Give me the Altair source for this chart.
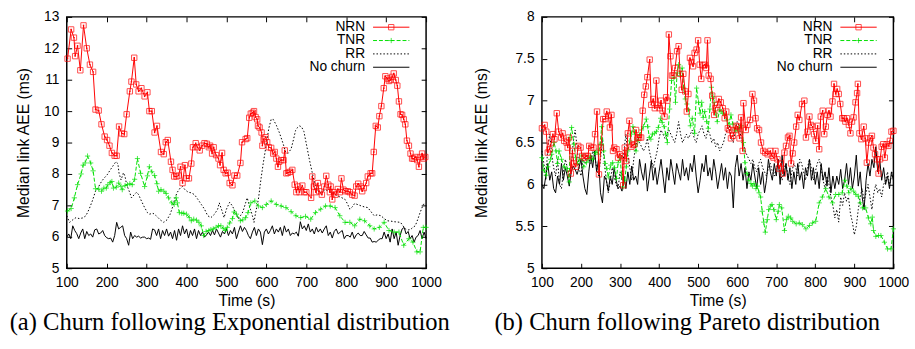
import altair as alt
import pandas as pd

# ---------------- data ----------------
T5 = list(range(100, 1001, 5))
SERIES = ["NRN", "TNR", "RR", "No churn"]

# (a) Exponential churn
a_nrn = [(102,11.67),(111,12.6),(118,12.34),(121,11.75),(127,12.08),(134,11.3),(142,12.73),(150,12.0),(158,11.48),(166,11.25),
         (172,10.05),(180,10.02),(187,9.58),(195,9.19),(201,9.08),(207,8.9),(213,8.67),(220,8.58),(225,8.58),(231,9.51),
         (238,9.29),(244,9.27),(250,9.9),(258,10.63),(262,10.94),(269,11.7),(274,10.85),(280,10.63),(287,10.73),(295,10.47),
         (302,10.6),(307,10.0),(313,10.0),(320,9.32),(326,9.53),(336,8.7),(343,8.63),(348,9.01),(353,9.08),(361,8.39),
         (365,8.13),(369,7.92),(375,7.92),(380,7.95),(385,8.23),(390,7.71),(396,8.28),(400,7.86),(406,7.86),(412,8.33),
         (416,8.85),(423,8.98),(427,8.85),(433,8.75),(439,8.9),(445,8.98),(451,8.96),(456,8.85),(459,8.9),(464,8.65),
         (468,8.85),(474,8.6),(480,8.49),(484,8.28),(489,8.67),(493,8.13),(498,8.02),(503,8.04),(508,7.71),(515,7.64),
         (520,7.95),(527,7.95),(535,8.35),(539,9.01),(548,9.11),(552,9.14),(557,9.79),(561,9.92),(566,9.95),(569,10.0),
         (573,9.81),(577,9.74),(579,9.53),(583,9.48),(588,9.32),(590,8.9),(593,9.11),(598,9.17),(602,9.01),(606,8.85),
         (612,8.83),(617,8.65),(621,8.7),(625,8.49),(629,8.23),(632,8.39),(637,8.44),(643,8.44),(646,8.75),(650,8.02),
         (654,8.04),(660,8.07),(665,8.13),(671,7.66),(675,7.42),(679,7.6),(683,7.42),(690,7.63),(695,7.42),(700,7.42),
         (712,7.24),(715,7.92),(719,7.6),(724,7.42),(729,7.71),(732,7.45),(739,7.34),(745,7.6),(750,7.94),(755,7.66),
         (759,7.42),(761,7.6),(765,7.19),(769,7.42),(773,7.34),(779,7.52),(784,7.42),(788,7.86),(793,7.5),(798,7.45),
         (804,7.45),(809,7.42),(815,7.34),(821,7.31),(825,7.6),(830,7.69),(836,7.6),(840,7.45),(844,7.55),(850,7.71),
         (854,7.92),(861,8.02),(865,8.02),(869,8.7),(874,9.53),(879,9.48),(883,9.84),(888,10.16),(894,10.73),(898,11.11),
         (903,11.04),(907,10.96),(911,10.99),(915,11.09),(919,11.2),(924,10.99),(928,10.81),(932,10.31),(936,9.9),(940,9.88),
         (944,9.74),(948,9.58),(952,9.06),(957,8.9),(961,8.65),(965,8.49),(969,8.49),(973,8.54),(978,8.44),(982,8.23),
         (986,8.54),(990,8.65),(994,8.49),(998,8.54)]
a_tnr = [(102,6.82),(111,6.9),(119,7.24),(127,7.66),(136,8.0),(141,8.28),(146,8.35),(152,8.57),(160,8.35),(166,8.1),
         (172,7.53),(180,7.52),(187,7.45),(193,7.55),(199,7.55),(203,7.66),(209,7.73),(213,7.76),(217,7.55),(224,7.58),
         (230,7.71),(236,7.6),(239,7.5),(246,7.63),(252,7.66),(258,7.69),(264,7.66),(270,7.83),(277,8.49),(285,8.02),
         (295,7.6),(302,7.94),(307,8.23),(313,8.07),(320,7.95),(326,7.69),(330,7.45),(336,7.5),(343,7.45),(349,7.38),
         (355,7.24),(363,7.08),(369,7.03),(374,7.24),(377,7.08),(382,6.77),(388,6.75),(393,6.75),(400,6.72),(407,6.61),
         (412,6.51),(418,6.56),(425,6.53),(431,6.46),(437,6.35),(443,6.04),(449,6.17),(456,6.2),(461,6.23),(467,6.25),
         (474,6.3),(480,6.35),(486,6.35),(492,6.27),(497,6.2),(502,6.3),(508,6.44),(515,6.58),(519,6.79),(525,6.72),
         (535,6.51),(541,6.54),(548,6.61),(554,6.77),(561,7.08),(571,7.14),(580,6.98),(590,6.93),(600,7.03),(612,7.14),
         (625,7.03),(637,6.98),(649,6.93),(662,6.8),(674,6.67),(686,6.61),(698,6.65),(711,6.56),(723,6.77),(736,6.88),
         (748,6.98),(760,6.98),(772,6.93),(784,6.67),(797,6.46),(809,6.46),(821,6.35),(834,6.56),(846,6.51),(859,6.35),
         (870,6.25),(883,6.3),(895,6.46),(907,6.2),(920,6.15),(932,6.15),(944,5.73),(957,5.94),(967,5.83),(977,5.52),
         (985,5.52),(993,6.3),(1000,6.3)]
a_rr = [(100,6.67),(107,6.46),(115,6.54),(123,6.61),(131,6.58),(140,6.6),(148,6.67),(156,6.88),(164,7.14),(172,7.45),
        (180,7.6),(187,7.76),(193,7.86),(201,7.97),(209,8.13),(217,8.28),(223,8.39),(228,8.33),(231,8.02),(236,7.81),
        (242,8.04),(246,7.92),(250,7.66),(258,7.4),(262,7.24),(269,7.34),(275,7.42),(280,7.34),(287,7.14),(295,6.93),
        (302,6.77),(307,6.72),(316,6.75),(324,6.67),(334,6.54),(343,6.46),(351,6.54),(359,6.72),(366,6.98),(371,7.24),
        (377,7.42),(384,7.55),(390,7.6),(396,7.5),(404,7.42),(412,7.4),(420,7.34),(428,7.2),(437,7.03),(445,6.88),
        (453,6.67),(461,6.61),(470,6.72),(478,6.88),(482,7.08),(489,6.82),(494,6.61),(500,6.88),(508,7.1),(515,6.98),
        (523,6.77),(530,6.56),(535,6.67),(541,6.79),(548,7.08),(552,7.24),(557,7.0),(560,6.88),(565,6.67),(569,6.46),
        (573,6.77),(580,7.19),(586,7.8),(592,8.33),(600,8.96),(606,9.45),(612,9.74),(617,9.74),(625,9.55),(633,9.3),
        (642,8.96),(648,8.7),(654,8.65),(662,8.8),(668,9.1),(673,9.38),(678,9.48),(683,9.53),(688,9.5),(694,9.35),
        (700,8.96),(708,8.44),(717,7.92),(725,7.5),(735,7.4),(748,7.5),(756,7.45),(764,7.4),(772,7.35),(780,7.29),
        (788,7.25),(797,7.19),(803,7.05),(809,6.88),(815,6.95),(821,7.06),(830,7.02),(838,6.98),(846,6.95),(854,6.93),
        (862,6.8),(870,6.67),(878,6.7),(887,6.67),(895,6.58),(903,6.51),(911,6.5),(920,6.48),(928,6.47),(936,6.46),
        (942,6.35),(948,6.25),(955,6.22),(961,6.23),(967,6.3),(973,6.35),(979,6.55),(985,6.77),(993,7.03),(1000,7.05)]
a_nc = [5.99,6.09,5.94,6.35,6.2,6.1,5.94,6.12,6.25,5.94, 6.17,6.04,6.09,5.99,6.22,6.25,6.09,6.12,6.2,6.04,
        5.97,5.94,5.96,5.83,6.04,6.46,6.25,6.3,6.35,6.04, 5.94,5.73,6.15,5.94,6.04,5.99,6.02,5.96,5.99,5.99,
        5.94,5.96,5.92,6.25,6.22,6.04,6.25,5.94,6.2,6.04, 6.25,6.02,6.15,5.94,6.2,5.89,6.25,6.04,6.35,6.09,
        6.25,5.96,6.2,6.04,6.25,5.94,6.2,6.04,6.15,5.99, 6.06,6.15,6.04,6.2,6.06,6.25,6.12,5.99,6.17,6.09,
        6.25,6.04,6.2,6.09,6.3,5.94,6.15,6.35,6.17,6.3, 6.2,6.04,5.94,6.15,6.3,6.04,6.25,6.15,5.75,6.15,
        6.25,6.09,6.2,6.35,6.09,6.25,6.15,6.3,6.04,6.35, 6.15,6.25,6.04,6.12,6.09,6.15,6.02,6.48,6.25,6.35,
        6.2,6.41,6.15,6.25,6.09,6.3,6.15,6.25,6.12,6.25, 6.35,6.04,6.15,5.96,6.17,6.25,6.09,6.15,6.2,5.94,
        6.04,6.04,5.99,6.15,5.94,6.06,6.12,6.04,6.04,6.17, 6.06,5.96,5.96,5.83,5.85,5.83,5.89,5.94,5.94,6.15,
        5.94,6.09,5.83,6.25,5.94,6.15,5.73,6.04,6.25,6.3, 6.09,6.17,5.94,6.04,5.83,5.99,6.04,6.2,5.94,6.15,
        5.94]

# (b) Pareto churn
b_nrn = [(100,6.67),(107,6.71),(111,6.63),(115,6.38),(119,6.42),(124,6.5),(128,6.6),(132,6.54),(138,6.85),(143,6.63),
         (149,6.56),(153,6.61),(157,6.52),(163,6.5),(166,6.44),(169,6.56),(174,6.13),(178,6.4),(182,6.25),(186,6.21),
         (193,6.46),(199,6.44),(203,6.34),(209,6.32),(213,6.34),(218,6.34),(221,6.46),(226,6.44),(232,6.44),(236,6.6),
         (241,6.87),(246,6.12),(251,6.44),(257,6.78),(262,6.78),(266,6.87),(270,6.82),(274,6.68),(278,6.83),(282,6.4),
         (285,6.44),(291,6.42),(295,6.32),(299,6.36),(305,6.34),(308,5.99),(312,6.44),(316,6.28),(320,6.61),(324,6.76),
         (329,6.45),(333,6.47),(337,6.48),(341,6.65),(345,6.56),(349,6.56),(354,6.56),(358,6.88),(362,7.07),(366,7.17),
         (370,7.28),(376,7.49),(380,6.95),(385,7.02),(389,6.91),(393,7.24),(397,6.95),(401,6.91),(405,7.0),(409,6.88),
         (414,6.81),(418,7.04),(421,7.0),(425,7.79),(429,7.53),(433,7.3),(437,7.3),(441,7.39),(446,7.59),(450,7.65),
         (454,7.32),(458,7.13),(462,7.32),(467,7.11),(471,6.87),(475,7.08),(479,7.51),(483,7.46),(487,7.41),(491,7.57),
         (496,7.61),(500,7.72),(504,7.43),(508,7.26),(512,7.42),(517,7.43),(521,7.39),(524,7.72),(527,7.3),(532,7.26),
         (536,7.06),(541,6.83),(544,6.91),(549,6.95),(553,7.02),(558,6.98),(563,6.91),(568,6.79),(572,6.87),(576,6.67),
         (580,6.65),(584,6.55),(589,6.58),(593,6.65),(597,6.7),(601,6.69),(606,6.55),(610,6.8),(614,6.4),(616,6.97),
         (622,6.65),(626,6.71),(633,6.77),(639,7.08),(643,7.0),(647,6.79),(651,6.67),(656,6.65),(661,6.5),(667,6.4),
         (672,6.38),(678,6.36),(685,6.4),(689,6.34),(693,6.32),(698,6.4),(703,6.3),(707,6.19),(712,6.25),(717,6.13),
         (721,6.38),(725,6.46),(730,6.56),(734,6.58),(738,6.25),(742,6.37),(746,6.5),(751,6.69),(755,6.83),(759,6.77),
         (766,6.96),(772,7.0),(776,6.56),(780,6.63),(785,6.81),(789,6.71),(793,6.69),(797,6.6),(801,6.52),(806,6.7),
         (810,6.42),(814,6.81),(819,6.88),(823,6.6),(827,6.69),(831,6.83),(835,6.88),(839,6.81),(844,6.99),(848,7.2),
         (852,7.08),(856,7.14),(860,7.08),(864,6.96),(869,6.79),(873,6.79),(877,6.75),(881,6.79),(886,6.71),(890,6.61),
         (894,6.75),(898,6.8),(903,6.98),(907,7.09),(909,7.2),(913,6.61),(918,6.54),(924,6.69),(928,6.55),(932,6.26),
         (937,6.5),(941,6.55),(945,6.58),(949,6.44),(953,6.36),(957,6.3),(962,6.13),(966,6.3),(970,6.45),(974,6.48),
         (978,6.32),(983,6.48),(987,6.46),(991,6.52),(995,6.63),(1000,6.64)]
b_tnr = [(100,6.32),(105,6.17),(111,6.11),(115,6.21),(122,6.3),(125,6.36),(131,6.5),(136,6.4),(140,6.25),(144,6.4),
         (150,6.3),(157,6.21),(164,6.19),(170,6.03),(172,6.56),(176,6.68),(182,6.48),(186,6.32),(191,6.25),(197,6.3),
         (202,6.35),(207,6.21),(214,6.26),(219,6.3),(224,6.34),(230,6.3),(237,6.38),(241,6.4),(245,6.36),(249,6.48),
         (253,6.69),(258,6.4),(262,6.25),(266,6.19),(270,6.09),(276,6.23),(281,6.26),(286,6.2),(291,6.07),(295,6.26),
         (300,6.32),(304,6.11),(308,5.97),(312,6.05),(316,6.21),(320,6.4),(325,6.52),(329,6.6),(333,6.69),(337,6.63),
         (341,6.4),(346,6.52),(350,6.59),(355,6.65),(360,6.69),(367,6.78),(371,6.69),(375,6.56),(379,6.54),(383,6.6),
         (388,6.61),(393,6.63),(398,6.68),(404,6.79),(408,6.74),(413,6.69),(417,6.6),(421,6.5),(427,6.9),(432,7.24),
         (438,7.28),(442,6.98),(446,7.33),(450,7.43),(454,7.3),(459,7.39),(463,7.15),(467,7.02),(471,6.96),(475,6.89),
         (480,6.7),(485,6.79),(491,6.61),(496,7.15),(501,6.98),(505,6.85),(509,6.98),(513,6.8),(517,6.87),(522,6.75),
         (526,6.67),(530,6.9),(534,7.16),(538,7.05),(541,6.98),(545,6.85),(549,6.75),(555,6.89),(559,6.87),(563,6.85),
         (568,6.83),(574,6.77),(579,6.72),(584,6.83),(589,6.72),(594,6.65),(600,6.64),(605,6.68),(611,6.7),(616,6.5),
         (620,6.26),(625,6.13),(630,6.05),(635,6.01),(639,5.98),(643,6.01),(648,5.95),(652,5.98),(656,5.9),(660,5.85),
         (664,5.68),(668,5.55),(672,5.43),(677,5.58),(681,5.7),(685,5.74),(689,5.76),(694,5.7),(700,5.58),(705,5.68),
         (708,5.76),(714,5.72),(721,5.45),(726,5.58),(731,5.62),(737,5.6),(742,5.56),(751,5.53),(759,5.54),(767,5.52),
         (776,5.47),(785,5.51),(793,5.54),(801,5.56),(810,5.78),(818,5.85),(827,5.95),(835,5.85),(844,5.78),(852,5.88),
         (860,5.88),(869,5.9),(876,6.05),(881,5.98),(886,5.9),(891,5.95),(898,5.92),(904,5.88),(910,5.86),(915,5.78),
         (921,5.72),(929,5.72),(936,5.6),(942,5.53),(946,5.61),(949,5.45),(955,5.38),(962,5.39),(968,5.39),(977,5.31),
         (985,5.23),(994,5.23),(1000,5.47)]
b_rr = [6.4,6.25,6.05,6.45,6.6,6.35,6.2,6.1,6.3,6.0, 5.95,6.15,6.3,6.2,6.1,6.2,6.5,6.65,6.45,6.2,
        6.1,6.3,6.25,6.35,6.3,6.25,6.4,6.35,6.2,6.1, 6.3,6.55,6.25,6.05,5.9,6.05,6.2,6.1,6.0,5.95,
        6.15,6.05,6.4,6.6,6.35,6.2,6.05,6.3,6.45,6.55, 6.5,6.45,6.4,6.45,6.55,6.4,6.3,6.2,6.3,6.4,
        6.55,6.65,6.6,6.55,6.6,6.65,6.6,6.55,6.5,6.6, 6.75,6.6,6.5,6.55,6.6,6.55,6.6,6.65,6.55,6.5,
        6.6,6.65,6.7,6.6,6.55,6.65,6.6,6.5,6.55,6.45, 6.5,6.4,6.45,6.5,6.6,6.65,6.7,6.55,6.5,6.65,
        6.75,6.7,6.55,6.5,6.4,6.35,6.3,6.25,6.3,6.2, 6.15,6.25,6.3,6.2,6.15,6.1,6.2,6.25,6.15,6.1,
        6.2,6.25,6.15,6.05,6.2,6.25,6.1,6.0,6.15,6.25, 6.2,6.1,6.3,6.25,6.15,6.05,6.2,6.3,6.2,6.05,
        6.15,6.25,6.3,6.2,6.05,5.95,6.1,6.0,5.85,5.75, 5.6,5.7,5.55,5.85,5.75,5.9,5.8,5.85,5.65,5.55,
        5.4,5.5,5.7,5.85,5.95,5.8,5.9,6.0,5.85,5.7, 5.9,6.0,5.9,5.95,5.85,6.0,6.05,6.15,6.0,6.1,
        6.15]
b_nc = [6.0,5.95,6.1,6.25,6.05,6.15,5.95,5.9,6.1,6.0, 6.25,6.05,6.2,6.1,5.98,6.15,6.22,6.18,6.12,6.2,
        6.3,6.1,5.95,5.88,6.15,6.35,6.2,6.4,6.15,6.3, 5.9,5.78,6.1,6.05,5.92,6.1,6.0,6.2,6.05,5.95,
        5.98,5.92,6.1,5.95,6.15,6.0,6.22,6.05,6.1,6.0, 6.3,6.15,6.05,6.25,5.92,6.1,6.28,6.05,6.2,6.0,
        6.15,6.3,6.1,5.9,6.2,6.05,6.3,6.15,6.0,6.25, 6.15,6.05,6.3,6.1,6.2,6.05,6.25,6.15,6.35,6.1,
        5.9,6.05,6.25,6.15,6.35,6.1,6.2,6.05,6.3,6.15, 5.95,6.1,6.25,6.05,6.2,5.95,6.15,6.1,5.72,6.2,
        6.35,6.1,6.25,6.05,6.2,5.95,6.15,6.05,6.25,6.1, 5.95,6.2,6.0,6.15,5.9,6.05,6.3,6.15,6.05,6.25,
        6.1,6.3,6.0,6.35,6.1,6.25,6.05,6.2,5.95,6.15, 6.0,6.25,6.05,6.15,5.95,6.2,6.1,6.3,6.05,6.2,
        6.0,6.15,5.95,6.25,6.05,6.15,5.98,6.2,5.9,6.1, 5.95,6.1,6.0,6.18,5.95,6.05,6.25,6.0,6.2,5.95,
        6.1,6.35,5.98,6.15,5.85,5.7,6.05,6.25,6.1,6.3, 6.2,6.45,6.15,6.3,6.05,6.2,6.0,6.1,5.95,6.15,
        6.05]

# ---------------- style ----------------
RED, GREEN, BLACK = "#ff0000", "#00e000", "#000000"
SANS, SERIF = "Liberation Sans", "Liberation Serif"
PLUS = "M-1,0H1M0,-1V1"


def pairs(p):
    return pd.DataFrame({"t": [a for a, _ in p], "v": [b for _, b in p]})


def grid(vals):
    return pd.DataFrame({"t": T5, "v": vals})


def panel(nrn, tnr, rr, nc, ydom, yvals, W, H, yext, caption, cdx):
    xs = alt.Scale(domain=[100, 1000], nice=False, zero=False)
    ys = alt.Scale(domain=ydom, nice=False, zero=False)
    common = dict(tickSize=5, offset=-5, domain=False, grid=False, tickColor=BLACK, tickWidth=1,
                  labelFont=SANS, labelFontSize=14, labelColor=BLACK,
                  titleFont=SANS, titleFontSize=16, titleFontWeight="normal", titleColor=BLACK)
    xa = alt.Axis(values=list(range(100, 1001, 100)), format="d", labelPadding=8, labelFlush=False,
                  labelOverlap=False, title="Time (s)", titlePadding=3, **common)
    ya = alt.Axis(values=yvals, format="~g", labelPadding=8, labelFlush=False, labelOverlap=False,
                  title="Median link AEE (ms)", titlePadding=0, minExtent=yext, maxExtent=yext, **common)
    xt = alt.Axis(orient="top", values=list(range(100, 1001, 100)), labels=False, title=None, **common)
    yr = alt.Axis(orient="right", values=yvals, labels=False, title=None, **common)

    def X(ax=None):
        return alt.X("t:Q", scale=xs, axis=ax)

    def Y(ax=None):
        return alt.Y("v:Q", scale=ys, axis=ax)

    rr_df = grid(rr) if not isinstance(rr[0], tuple) else pairs(rr)
    layers = [
        alt.Chart(rr_df).mark_line(color=BLACK, strokeWidth=1, strokeDash=[1.5, 2]).encode(x=X(xa), y=Y(ya)),
        alt.Chart(grid(nc)).mark_line(color=BLACK, strokeWidth=1, opacity=0).encode(x=X(xt), y=Y(yr)),
        alt.Chart(grid(nc)).mark_line(color=BLACK, strokeWidth=1).encode(x=X(), y=Y()),
        alt.Chart(pairs(tnr)).mark_line(color=GREEN, strokeWidth=1, strokeDash=[4, 2]).encode(x=X(), y=Y()),
        alt.Chart(pairs(tnr)).mark_point(shape=PLUS, color=GREEN, size=28, strokeWidth=1,
                                         filled=False).encode(x=X(), y=Y()),
        alt.Chart(pairs(nrn)).mark_line(color=RED, strokeWidth=1).encode(x=X(), y=Y()),
        alt.Chart(pairs(nrn)).mark_point(shape="square", color=RED, size=30, strokeWidth=1,
                                         filled=False).encode(x=X(), y=Y()),
        alt.Chart(pairs(nrn)).mark_point(shape="square", color=RED, size=2, filled=True,
                                         opacity=1).encode(x=X(), y=Y()),
    ]

    # gnuplot-style key, top right inside the frame
    styles = {
        "NRN": dict(color=RED, strokeWidth=1),
        "TNR": dict(color=GREEN, strokeWidth=1, strokeDash=[4, 2]),
        "RR": dict(color=BLACK, strokeWidth=1, strokeDash=[1.5, 2]),
        "No churn": dict(color=BLACK, strokeWidth=1),
    }
    for i, name in enumerate(SERIES):
        yy = 10.5 + 13.6 * i
        one = pd.DataFrame({"label": [name]})
        layers.append(alt.Chart(one).mark_text(align="right", baseline="middle", font=SANS,
                                               fontSize=14, color=BLACK).encode(
            text="label:N", x=alt.value(W - 62), y=alt.value(yy)))
        layers.append(alt.Chart(one).mark_rule(**styles[name]).encode(
            x=alt.value(W - 54), x2=alt.value(W - 17), y=alt.value(yy)))
        if name == "NRN":
            layers.append(alt.Chart(one).mark_point(shape="square", color=RED, size=30, strokeWidth=1,
                                                    filled=False).encode(x=alt.value(W - 35.5), y=alt.value(yy)))
        if name == "TNR":
            layers.append(alt.Chart(one).mark_point(shape=PLUS, color=GREEN, size=28, strokeWidth=1,
                                                    filled=False).encode(x=alt.value(W - 35.5), y=alt.value(yy)))

    return alt.layer(*layers).resolve_axis(x="independent", y="independent").properties(
        width=W, height=H,
        title=alt.TitleParams(caption, orient="bottom", anchor="middle", font=SERIF, fontSize=25,
                              fontWeight="normal", color=BLACK, offset=2, dx=cdx))


left = panel(a_nrn, a_tnr, a_rr, a_nc, [5, 13], list(range(5, 14)), 366, 256, 41,
             "(a) Churn following Exponential distribution", -17)
right = panel(b_nrn, b_tnr, b_rr, b_nc, [5, 8], [5, 5.5, 6, 6.5, 7, 7.5, 8], 358, 256, 58,
              "(b) Churn following Pareto distribution", -31)

chart = alt.hconcat(left, right, spacing=22).properties(
    padding={"left": 8, "top": 6, "right": 5, "bottom": 5}, background="white"
).configure_view(stroke=BLACK, strokeWidth=1.5)

chart.save("out.html", embed_options={"renderer": "svg", "actions": False})
